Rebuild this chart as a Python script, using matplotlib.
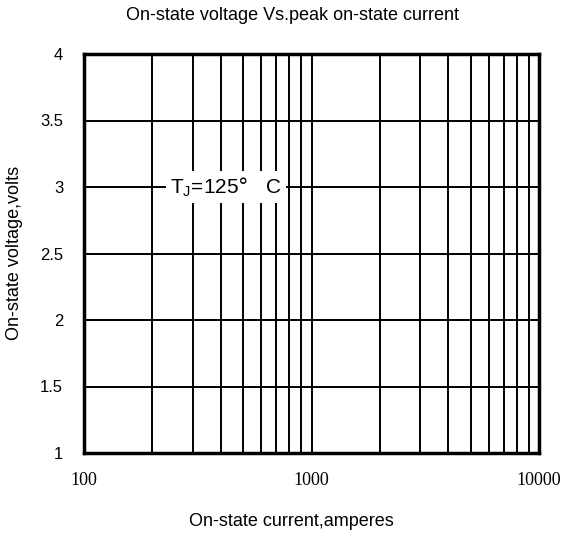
import matplotlib
matplotlib.use("Agg")
import matplotlib.pyplot as plt
from matplotlib.ticker import FixedLocator, NullFormatter, LogLocator

plt.rcParams['font.family'] = ['Liberation Sans', 'DejaVu Sans']

# axis setup
x_range = [100, 10000]
y_range = [1, 4]
x_ticks = [100, 1000, 10000]
x_tick_labels = ['100', '1000', '10000']
y_ticks = [1, 1.5, 2, 2.5, 3, 3.5, 4]
y_tick_labels = ['1', '1.5', '2', '2.5', '3', '3.5', '4']
note_x = 420
note_y = 3

W, H = 565, 541
fig = plt.figure(figsize=(W / 100, H / 100), dpi=100)
ax = fig.add_axes([84 / W, 1 - 453 / H, 455 / W, 399 / H])
ax.set_xscale('log')
ax.set_xlim(x_range)
ax.set_ylim(y_range)

ax.xaxis.set_major_locator(FixedLocator(x_ticks))
ax.set_xticklabels(x_tick_labels, fontfamily='Liberation Serif', fontsize=13)
ax.xaxis.set_minor_locator(LogLocator(base=10, subs=range(2, 10)))
ax.xaxis.set_minor_formatter(NullFormatter())
ax.set_yticks(y_ticks)
ax.set_yticklabels(y_tick_labels, fontsize=12)

ax.grid(True, which='both', axis='x', color='black', linewidth=1.4)
ax.grid(True, which='major', axis='y', color='black', linewidth=1.4)
ax.tick_params(which='both', length=0)
ax.tick_params(axis='x', pad=14)
ax.tick_params(axis='y', pad=15)
for s in ax.spines.values():
    s.set_linewidth(2.5)

ax.text(note_x, note_y, r'T$_\mathregular{J}$=125$\degree$   C', fontsize=15,
        ha='center', va='center',
        bbox=dict(facecolor='white', edgecolor='none', pad=3))

fig.text(293 / W, 1 - 16 / H, 'On-state voltage Vs.peak on-state current',
         fontsize=13, ha='center', va='center')
fig.text(291 / W, 1 - 522 / H, 'On-state current,amperes',
         fontsize=13, ha='center', va='center')
fig.text(15 / W, 1 - 253 / H, 'On-state voltage,volts',
         fontsize=13, ha='center', va='center', rotation=90)

fig.savefig('out.png', dpi=100)
